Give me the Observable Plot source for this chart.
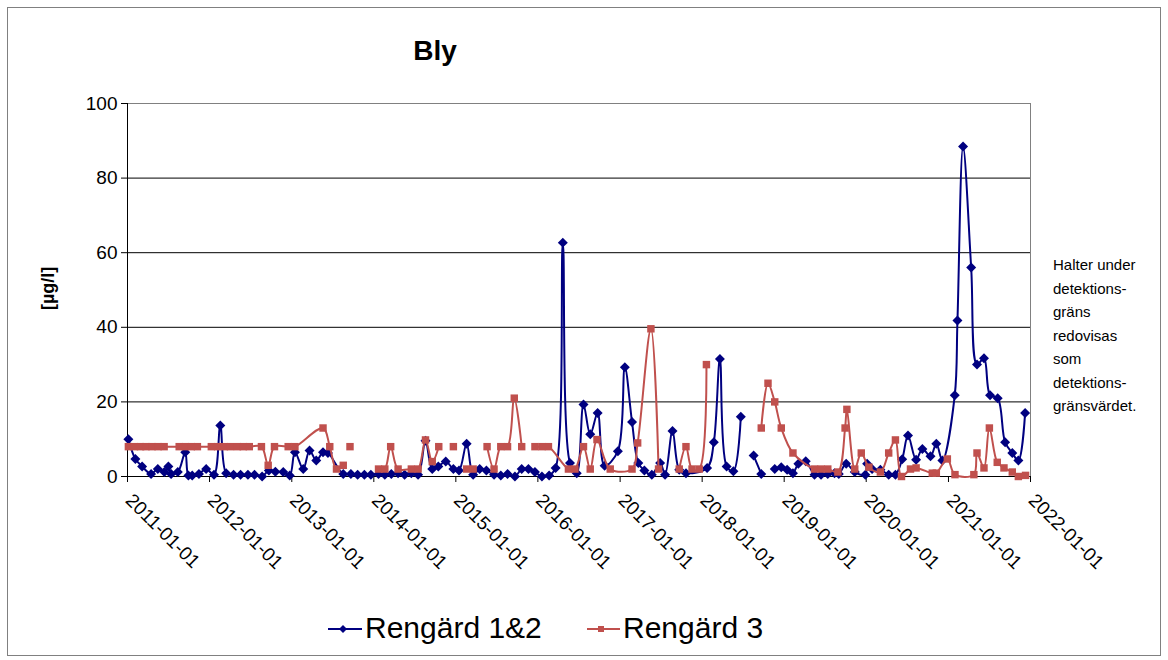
<!DOCTYPE html>
<html>
<head>
<meta charset="utf-8">
<script src="https://cdn.jsdelivr.net/npm/d3@7"></script>
<script src="https://cdn.jsdelivr.net/npm/@observablehq/plot@0.6"></script>
<style>
  body { margin: 0; background: #fff; font-family: "Liberation Sans", Arial, sans-serif; }
  #wrap { position: relative; width: 1168px; height: 660px; overflow: hidden; background: #fff; }
  #border { position: absolute; left: 7px; top: 7px; width: 1152px; height: 647px; border: 1px solid #808080; pointer-events: none; }
  #chart { position: absolute; left: 0; top: 0; }
  #title { position: absolute; left: 335px; top: 37px; width: 200px; text-align: center; font-weight: bold; font-size: 28px; line-height: 28px; }
  .leg { position: absolute; top: 612.6px; font-size: 30px; line-height: 30px; white-space: nowrap; }
  .sw { position: absolute; top: 620px; }
  #note { position: absolute; left: 1053px; top: 253px; font-size: 15px; line-height: 23.5px; white-space: nowrap; }
</style>
</head>
<body>
<div id="wrap">
  <div id="chart"></div>
  <div id="border"></div>
  <div id="title"></div>
  <svg class="sw" style="left:326px" width="38" height="18"><line x1="2" y1="9" x2="36" y2="9" stroke="#000080" stroke-width="2"/><path d="M17,5 L21,9 L17,13 L13,9 Z" fill="#000080"/></svg>
  <div class="leg" id="leg1" style="left:365px"></div>
  <svg class="sw" style="left:585px" width="38" height="18"><line x1="2" y1="9" x2="35" y2="9" stroke="#C0504D" stroke-width="2"/><rect x="13" y="6" width="6" height="6" fill="#C0504D"/></svg>
  <div class="leg" id="leg2" style="left:623px"></div>
  <div id="note"></div>
</div>
<script>
const titleText = "Bly";
const yLabel = "[µg/l]";
const seriesNames = ["Rengärd 1&2", "Rengärd 3"];
const noteLines = ["Halter under", "detektions-", "gräns", "redovisas", "som", "detektions-", "gränsvärdet."];
const yTicks = [0, 20, 40, 60, 80, 100];
const xTickLabels = ["2011-01-01","2012-01-01","2013-01-01","2014-01-01","2015-01-01","2016-01-01","2017-01-01","2018-01-01","2019-01-01","2020-01-01","2021-01-01","2022-01-01"];

// Rengärd 1&2 (null = break in line)
const blueDates = ["2011-01-05","2011-02-05","2011-03-07","2011-04-16","2011-05-16","2011-06-14","2011-07-02","2011-07-14","2011-08-13","2011-09-15","2011-09-29","2011-10-16","2011-11-15","2011-12-17",
"2012-01-21","2012-02-18","2012-03-15","2012-04-17","2012-05-18","2012-06-20","2012-07-19","2012-08-22","2012-09-21","2012-10-20","2012-11-24","2012-12-23",
"2013-01-15","2013-02-21","2013-03-21","2013-04-20","2013-05-20","2013-06-11","2013-08-18","2013-09-21","2013-10-21","2013-11-20","2013-12-19",
"2014-01-22","2014-02-19","2014-03-20","2014-04-19","2014-05-18","2014-06-17","2014-07-17","2014-08-19","2014-09-18","2014-10-15","2014-11-17","2014-12-21",
"2015-01-15","2015-02-18","2015-03-19","2015-04-17","2015-05-17","2015-06-20","2015-07-20","2015-08-19","2015-09-21","2015-10-21","2015-11-20","2015-12-19",
"2016-01-19","2016-02-20","2016-03-20","2016-04-21","2016-05-23","2016-06-22","2016-07-22","2016-08-21","2016-09-23","2016-10-24","2016-12-22",
"2017-01-22","2017-02-23","2017-03-23","2017-04-19","2017-05-22","2017-06-28","2017-07-20","2017-08-22","2017-09-21","2017-10-21",
"2018-01-23","2018-02-22","2018-03-21","2018-04-20","2018-05-20","2018-06-22",null,"2018-08-18","2018-09-21",null,"2018-11-20","2018-12-19",
"2019-01-14","2019-02-09","2019-03-05","2019-04-07","2019-05-16","2019-06-14","2019-07-14","2019-08-13","2019-09-01","2019-10-04","2019-11-11","2019-12-28",
"2020-01-05","2020-01-27","2020-03-04","2020-04-10","2020-05-10","2020-06-09","2020-07-05","2020-08-10","2020-09-07","2020-10-13","2020-11-08","2020-12-05",
"2021-01-29","2021-02-10","2021-03-07","2021-04-12","2021-05-08","2021-06-08","2021-07-05","2021-08-08","2021-09-10","2021-10-12","2021-11-08","2021-12-08"];
const blueValues = [10,4.7,2.7,0.7,2.0,1.2,2.7,0.7,1.2,6.5,0.3,0.3,0.7,2.0,
0.5,13.7,0.9,0.5,0.5,0.5,0.5,0,1.6,1.3,1.2,0.3,
6.5,2.0,7,4.3,6.5,6.3,0.7,0.7,0.5,0.5,0.5,
0.7,0.5,0.7,0.9,0.5,0.9,0.5,9.6,2,2.7,4,2,
1.6,8.8,0.5,2,1.6,0.5,0.3,0.7,0,2,2,1.2,
0,0.3,2.3,62.7,3.6,0.9,19.3,11.3,17,2.9,6.8,
29.3,14.6,3.6,1.6,0.5,3.6,0.5,12.2,1.8,0.9,
2.3,9.2,31.5,2.7,1.4,16,null,5.6,0.7,null,2,2.5,
1.8,0.9,3.4,4.1,0.5,0.5,0.7,0.9,0.7,3.4,1.2,0.5,
3.4,2,1.8,0.5,0.5,4.6,11,4.5,7.4,5.4,8.8,4.3,
21.8,41.8,88.5,56,30,31.7,21.8,21,9.2,6.3,4.3,17];

// Rengärd 3 (null = break in line)
const redDates = ["2011-01-05","2011-02-01","2011-02-28","2011-03-24","2011-04-20","2011-05-17","2011-06-13","2011-08-19","2011-09-15","2011-10-12","2011-11-08",
"2012-01-09","2012-02-06","2012-03-07","2012-04-03","2012-05-04","2012-05-30","2012-06-26","2012-08-19","2012-09-18","2012-10-16","2012-12-16",
"2013-01-15","2013-05-20","2013-06-19","2013-07-19","2013-08-18",null,"2013-09-17",null,
"2014-01-22","2014-02-19","2014-03-17","2014-04-19","2014-06-17","2014-07-17","2014-08-19","2014-09-18","2014-10-17",null,"2014-12-21",null,
"2015-02-18","2015-03-19",null,"2015-05-20","2015-06-20","2015-07-20","2015-08-19","2015-09-18","2015-10-21",null,"2015-12-19",
"2016-01-19","2016-02-17","2016-05-16","2016-06-14","2016-07-22","2016-08-21","2016-09-20","2016-11-18",
"2017-02-23","2017-03-20","2017-05-18","2017-06-21",null,"2017-09-21","2017-10-21","2017-11-17","2017-12-19",
"2018-01-20",null,"2018-09-21","2018-10-21","2018-11-20","2018-12-19",
"2019-02-09","2019-05-16","2019-06-14","2019-07-14","2019-08-28","2019-09-29","2019-10-07","2019-11-11","2019-12-10",
"2020-01-13","2020-03-04","2020-04-10","2020-05-10","2020-06-06","2020-07-16","2020-08-10","2020-10-21","2020-11-08","2020-12-27",
"2021-01-30","2021-04-24","2021-05-08","2021-06-08","2021-07-02","2021-08-06","2021-09-05","2021-10-12","2021-11-08","2021-12-10"];
const redValues = [8,8,8,8,8,8,8,8,8,8,8,
8,8,8,8,8,8,8,8,3,8,8,
8,13,8,2,3,null,8,null,
2,2,8,2,2,2,9.8,4,8,null,8,null,
2,2,null,8,2,8,8,21,8,null,8,
8,8,2,2,8,2,9.9,2,
2,9,39.6,2,null,2,8,2,2,
30,null,13,25,20,13,
6.3,2,2,2,1.2,13,18,2,6.3,
2.5,1.2,6.3,9.8,0,2,2.3,0.9,0.9,4.7,
0.5,0.5,6.3,2.3,13,3.8,2.3,1.2,0,0.3];

const toRows = (dates, values) => dates.map((d, i) => ({
  date: d == null ? null : new Date(d),
  value: values[i]
}));
const blue = toRows(blueDates, blueValues);
const red = toRows(redDates, redValues);
const xTicks = xTickLabels.map(s => new Date(s));
const x0 = xTicks[0], x1 = xTicks[xTicks.length - 1];

document.getElementById("title").textContent = titleText;
document.getElementById("leg1").textContent = seriesNames[0];
document.getElementById("leg2").textContent = seriesNames[1];
document.getElementById("note").innerHTML = noteLines.map(s => `<div>${s}</div>`).join("");

const chart = Plot.plot({
  width: 1168,
  height: 660,
  marginLeft: 127,
  marginRight: 138,
  marginTop: 103,
  marginBottom: 184,
  style: { fontFamily: "Liberation Sans, Arial, sans-serif", background: "transparent", color: "#000", overflow: "visible" },
  x: { type: "utc", domain: [x0, x1], label: null },
  y: { domain: [0, 100], label: null },
  marks: [
    Plot.frame({ stroke: "#808080" }),
    Plot.gridY([20, 40, 60, 80], { stroke: "#000", strokeOpacity: 1 }),
    Plot.ruleX([x0], { stroke: "#000" }),
    Plot.ruleY([0], { stroke: "#000" }),
    Plot.axisY({ ticks: yTicks, tickSize: 6, tickPadding: 4, fontSize: 19, tickFormat: d => String(d), label: null }),
    Plot.axisX({ ticks: xTicks, tickSize: 6, tickFormat: () => "", label: null }),
    Plot.text(xTicks, { x: d => d, frameAnchor: "bottom", dx: -3, dy: 25, rotate: 45, textAnchor: "start", lineAnchor: "bottom", text: (d, i) => xTickLabels[i], fontSize: 19 }),
    Plot.text([yLabel], { frameAnchor: "left", dx: -79, dy: 20, rotate: -90, text: d => d, fontWeight: "bold", fontSize: 18 }),
    Plot.line(blue, { x: "date", y: "value", stroke: "#000080", strokeWidth: 2, curve: "catmull-rom" }),
    Plot.dot(blue, { x: "date", y: "value", symbol: "diamond2", r: 4.5, fill: "#000080", stroke: null }),
    Plot.line(red, { x: "date", y: "value", stroke: "#C0504D", strokeWidth: 2, curve: "catmull-rom" }),
    Plot.dot(red, { x: "date", y: "value", symbol: "square", r: 4.2, fill: "#C0504D", stroke: null })
  ]
});
document.getElementById("chart").appendChild(chart);
</script>
</body>
</html>
